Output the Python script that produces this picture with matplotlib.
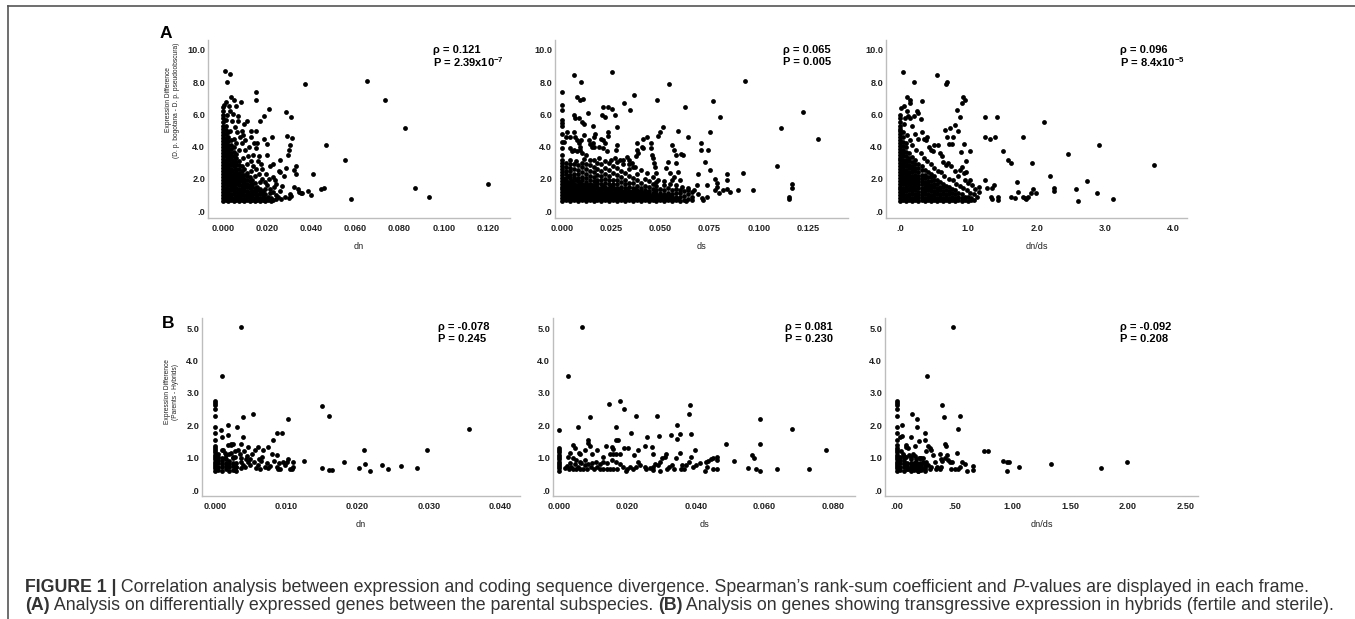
import matplotlib
matplotlib.use("Agg")
import matplotlib.pyplot as plt
from matplotlib.lines import Line2D

plt.rcParams['font.family'] = ['Liberation Sans', 'DejaVu Sans']
plt.rcParams['mathtext.fontset'] = 'custom'
plt.rcParams['mathtext.rm'] = 'Liberation Sans:bold'
plt.rcParams['mathtext.default'] = 'rm'

W, H = 1355, 619

# ---------------- data ----------------
# dense cores are stored column by column: {x: [y values]}
a_dn_core = {
    0.0000: [0.62, 0.8, 0.99, 1.18, 1.37, 1.55, 1.74, 1.93, 2.12, 2.3, 2.49, 2.68, 2.87, 3.05, 3.24, 3.43, 3.62, 3.8, 3.99, 4.18, 4.37, 4.55, 4.74, 4.93, 5.12, 5.3, 5.52, 5.75, 5.98, 6.2],
    0.0012: [0.68, 0.88, 1.07, 1.26, 1.46, 1.65, 1.84, 2.03, 2.22, 2.42, 2.61, 2.8, 3.0, 3.2, 3.39, 3.58, 3.78, 3.97, 4.16, 4.36, 4.56, 4.78, 5.02, 5.3, 5.65],
    0.0024: [0.63, 0.82, 1.02, 1.21, 1.4, 1.6, 1.79, 1.98, 2.17, 2.37, 2.56, 2.76, 2.95, 3.14, 3.34, 3.53, 3.72, 3.92, 4.12, 4.35, 4.6, 4.88],
    0.0036: [0.7, 0.9, 1.09, 1.28, 1.48, 1.67, 1.86, 2.06, 2.25, 2.44, 2.64, 2.83, 3.02, 3.22, 3.41, 3.62, 3.85, 4.1, 4.4],
    0.0048: [0.64, 0.84, 1.03, 1.22, 1.42, 1.61, 1.8, 2.0, 2.19, 2.38, 2.58, 2.77, 2.96, 3.18, 3.4, 3.65, 3.95],
    0.0060: [0.69, 0.88, 1.08, 1.27, 1.46, 1.66, 1.85, 2.04, 2.24, 2.43, 2.63, 2.84, 3.06, 3.3, 3.55],
    0.0072: [0.62, 0.82, 1.01, 1.2, 1.4, 1.59, 1.78, 1.98, 2.17, 2.38, 2.6, 2.85, 3.1],
    0.0084: [0.67, 0.87, 1.06, 1.25, 1.45, 1.64, 1.84, 2.04, 2.26, 2.5, 2.78],
    0.0096: [0.63, 0.83, 1.02, 1.22, 1.41, 1.61, 1.81, 2.02, 2.25, 2.6],
    0.0108: [0.68, 0.88, 1.07, 1.27, 1.47, 1.68, 1.9, 2.15, 2.35],
    0.0120: [0.62, 0.82, 1.01, 1.21, 1.41, 1.62, 1.85, 2.1],
    0.0132: [0.66, 0.86, 1.06, 1.26, 1.47, 1.7, 1.92],
    0.0144: [0.63, 0.83, 1.03, 1.24, 1.46, 1.72],
    0.0156: [0.68, 0.88, 1.08, 1.3, 1.52],
    0.0168: [0.62, 0.82, 1.03, 1.25, 1.38],
    0.0180: [0.66, 0.87, 1.08, 1.22],
    0.0192: [0.63, 0.84, 1.05],
    0.0204: [0.68, 0.9],
    0.0216: [0.64, 0.8],
    0.0228: [0.7],
}
a_dn_pts = [
    (0.0008, 8.7), (0.003, 8.5), (0.002, 8.0), (0.037, 7.9), (0.065, 8.07), (0.0732, 6.87), (0.0826, 5.13),
    (0.0868, 1.45), (0.0934, 0.89), (0.120, 1.68), (0.058, 0.72), (0.0554, 3.17), (0.0468, 4.1), (0.0408, 2.28),
    (0.0332, 2.82), (0.0445, 1.35), (0.0457, 1.45), (0.0385, 1.24), (0.040, 1.0), (0.0355, 1.14), (0.032, 1.5),
    (0.0287, 6.17), (0.031, 5.86), (0.029, 4.66), (0.0314, 4.55), (0.0305, 4.1), (0.030, 3.8), (0.0295, 3.5),
    (0.0287, 2.7), (0.032, 2.55), (0.033, 2.3), (0.030, 0.8), (0.031, 0.95), (0.0305, 1.05), (0.0148, 7.37),
    (0.0148, 6.9), (0.021, 6.33), (0.0185, 5.9), (0.0166, 5.6), (0.011, 5.6), (0.022, 4.6), (0.0185, 4.45),
    (0.020, 4.16), (0.020, 3.5), (0.015, 4.95), (0.0142, 4.2), (0.0148, 3.9), (0.0155, 4.2), (0.0125, 5.0),
    (0.0125, 4.6), (0.009, 4.7), (0.026, 3.2), (0.0255, 2.5), (0.026, 2.4), (0.0227, 2.1), (0.0235, 1.9),
    (0.024, 1.7), (0.0215, 2.8), (0.0225, 2.9), (0.017, 2.9), (0.0165, 3.4), (0.008, 6.8), (0.006, 6.5),
    (0.005, 6.9), (0.0035, 7.1), (0.007, 5.9), (0.0095, 5.4), (0.0275, 2.2), (0.0268, 1.55), (0.0258, 1.25),
    (0.028, 0.85), (0.034, 1.35), (0.0345, 1.2), (0.036, 1.15), (0.0018, 5.95), (0.003, 6.2), (0.0042, 5.6),
    (0.0055, 5.2), (0.0065, 4.9), (0.0078, 4.6), (0.0088, 4.2), (0.010, 3.8), (0.0112, 3.4), (0.0125, 3.1),
    (0.0138, 2.8), (0.015, 2.6), (0.0162, 2.3), (0.0175, 2.0), (0.0188, 1.8), (0.020, 1.6), (0.0212, 1.4),
    (0.0225, 1.2), (0.0238, 1.0), (0.025, 0.85), (0.0262, 0.72), (0.0048, 4.5), (0.006, 4.2), (0.0072, 3.8),
    (0.0032, 5.0), (0.009, 3.3), (0.011, 2.9), (0.0128, 2.5), (0.0145, 2.2), (0.0168, 1.8), (0.019, 1.4),
    (0.0215, 1.1), (0.024, 0.75), (0.0025, 6.5), (0.0045, 6.0), (0.007, 5.6), (0.0085, 5.0), (0.0098, 4.4),
    (0.0118, 4.0), (0.0135, 3.5), (0.016, 3.1), (0.0178, 2.6), (0.0195, 2.3), (0.0208, 2.0), (0.023, 1.5),
    (0.0005, 6.6), (0.0015, 6.8), (0.0, 6.45),
]

a_ds_core = {
    0.000: [0.62, 0.8, 0.98, 1.16, 1.34, 1.52, 1.7, 1.88, 2.06, 2.24, 2.42, 2.6, 2.78, 2.96, 3.14],
    0.001: [0.72, 0.93, 1.14, 1.36, 1.58, 1.8, 2.0],
    0.002: [0.68, 0.88, 1.08, 1.28, 1.48, 1.68, 1.88, 2.08, 2.28, 2.5, 2.74, 2.98],
    0.003: [0.74, 0.95, 1.16, 1.38, 1.6, 1.82, 2.15],
    0.004: [0.63, 0.83, 1.03, 1.23, 1.43, 1.63, 1.83, 2.03, 2.24, 2.46, 2.7, 2.95],
    0.005: [0.73, 0.94, 1.15, 1.37, 1.6, 1.84],
    0.006: [0.7, 0.9, 1.1, 1.3, 1.5, 1.7, 1.9, 2.1, 2.32, 2.6, 2.92],
    0.007: [0.75, 0.96, 1.18, 1.4, 1.62, 1.95],
    0.008: [0.64, 0.84, 1.04, 1.24, 1.44, 1.64, 1.84, 2.05, 2.28, 2.55, 2.88],
    0.009: [0.72, 0.94, 1.15, 1.38, 1.6, 1.8],
    0.010: [0.69, 0.89, 1.09, 1.29, 1.49, 1.69, 1.9, 2.12, 2.4, 2.72, 3.0],
    0.011: [0.74, 0.95, 1.17, 1.4, 1.63],
    0.012: [0.62, 0.82, 1.02, 1.22, 1.42, 1.62, 1.83, 2.05, 2.3, 2.62, 2.95],
    0.013: [0.73, 0.95, 1.16, 1.38, 1.6],
    0.014: [0.67, 0.87, 1.07, 1.27, 1.47, 1.68, 1.9, 2.15, 2.48, 2.85],
    0.015: [0.75, 0.96, 1.18, 1.4, 1.62],
    0.016: [0.63, 0.83, 1.03, 1.23, 1.43, 1.64, 1.86, 2.1, 2.4, 2.75, 3.2],
    0.017: [0.72, 0.94, 1.15, 1.38, 1.6],
    0.018: [0.7, 0.9, 1.1, 1.3, 1.5, 1.72, 1.95, 2.22, 2.6, 3.0],
    0.019: [0.74, 0.96, 1.18, 1.4],
    0.020: [0.64, 0.84, 1.04, 1.24, 1.45, 1.66, 1.9, 2.18, 2.5, 2.9],
    0.021: [0.73, 0.95, 1.16, 1.38, 1.58],
    0.022: [0.68, 0.88, 1.08, 1.28, 1.49, 1.72, 1.98, 2.3, 2.7],
    0.023: [0.75, 0.96, 1.18, 1.4],
    0.024: [0.62, 0.82, 1.02, 1.22, 1.43, 1.65, 1.9, 2.2, 2.55, 3.0],
    0.025: [0.72, 0.94, 1.15, 1.36, 1.55],
    0.026: [0.67, 0.87, 1.07, 1.27, 1.48, 1.7, 1.96, 2.35, 2.8],
    0.027: [0.74, 0.96, 1.17, 1.38],
    0.028: [0.63, 0.83, 1.03, 1.23, 1.44, 1.66, 1.92, 2.25, 2.65],
    0.029: [0.73, 0.95, 1.16, 1.4],
    0.030: [0.69, 0.89, 1.09, 1.3, 1.52, 1.78, 2.1, 2.5],
    0.031: [0.75, 0.97, 1.2],
    0.032: [0.62, 0.82, 1.02, 1.22, 1.43, 1.66, 1.95, 2.35],
    0.033: [0.72, 0.94, 1.15, 1.35],
    0.034: [0.66, 0.86, 1.06, 1.27, 1.5, 1.76, 2.15, 2.6],
    0.035: [0.74, 0.96, 1.18],
    0.036: [0.63, 0.83, 1.03, 1.24, 1.46, 1.72, 2.05],
    0.037: [0.73, 0.95, 1.15, 1.35],
    0.038: [0.68, 0.88, 1.08, 1.3, 1.55, 1.9, 2.3],
    0.039: [0.75, 0.97, 1.2],
    0.040: [0.62, 0.82, 1.02, 1.23, 1.46, 1.75],
    0.041: [0.72, 0.94, 1.14],
    0.042: [0.67, 0.87, 1.08, 1.3, 1.58, 2.0],
    0.043: [0.74, 0.96, 1.18],
    0.044: [0.64, 0.84, 1.05, 1.27, 1.52, 1.85],
    0.045: [0.73, 0.95],
    0.046: [0.69, 0.9, 1.12, 1.36, 1.7],
    0.047: [0.75, 0.98, 1.2],
    0.048: [0.62, 0.83, 1.04, 1.28, 1.55],
    0.049: [0.72, 0.94],
    0.050: [0.67, 0.88, 1.1, 1.35],
    0.051: [0.74, 0.96],
    0.052: [0.64, 0.85, 1.07, 1.3, 1.6],
    0.053: [0.73, 0.95],
    0.054: [0.7, 0.92, 1.15, 1.42],
    0.055: [0.75, 0.97],
    0.056: [0.63, 0.85, 1.08, 1.32],
    0.057: [0.72],
    0.058: [0.68, 0.9, 1.14, 1.4],
    0.059: [0.74],
    0.060: [0.64, 0.86, 1.1, 1.3],
    0.062: [0.7, 0.95, 1.22],
    0.064: [0.75, 1.05, 1.3],
    0.066: [0.9, 1.2],
}
a_ds_pts = [
    (0.0059, 8.45), (0.0253, 8.65), (0.0098, 8.0), (0.0544, 7.9), (0.0929, 8.07), (0.0, 7.37), (0.0076, 7.1),
    (0.0093, 6.9), (0.0106, 6.93), (0.0, 6.58), (0.0, 6.27), (0.0367, 7.2), (0.0316, 6.69), (0.0346, 6.27),
    (0.0485, 6.9), (0.0765, 6.85), (0.021, 6.44), (0.0231, 6.48), (0.0253, 6.31), (0.0267, 5.96), (0.0203, 5.96),
    (0.0216, 5.86), (0.0132, 6.1), (0.006, 5.96), (0.0064, 5.75), (0.0, 5.65), (0.0, 5.44), (0.0, 5.28),
    (0.0088, 5.75), (0.0101, 5.55), (0.011, 5.4), (0.0157, 5.28), (0.0279, 5.24), (0.0515, 5.24), (0.0625, 6.48),
    (0.0802, 5.86), (0.1115, 5.13), (0.1225, 6.17), (0.130, 4.45), (0.092, 2.38), (0.1093, 2.8), (0.117, 1.68),
    (0.117, 1.41), (0.1154, 0.85), (0.1154, 0.72), (0.097, 1.3), (0.0895, 1.3), (0.0856, 1.2), (0.084, 1.35),
    (0.082, 1.3), (0.079, 1.76), (0.079, 1.5), (0.078, 1.3), (0.080, 1.1), (0.078, 2.0), (0.084, 2.3),
    (0.084, 1.93), (0.0752, 4.93), (0.0706, 4.24), (0.0706, 3.79), (0.074, 3.79), (0.0726, 3.06), (0.0752, 2.55),
    (0.069, 2.3), (0.0684, 1.6), (0.0735, 1.6), (0.0735, 0.89), (0.0718, 0.68), (0.0588, 5.0), (0.056, 4.1),
    (0.057, 3.8), (0.058, 3.5), (0.0605, 3.54), (0.0617, 3.48), (0.0642, 4.6), (0.054, 3.06), (0.053, 2.65),
    (0.058, 2.96), (0.059, 2.44), (0.057, 2.13), (0.055, 2.34), (0.0557, 1.93), (0.060, 1.93), (0.0498, 4.93),
    (0.049, 4.66), (0.043, 4.6), (0.041, 4.5), (0.0405, 4.0), (0.0414, 3.9), (0.045, 4.2), (0.045, 3.9),
    (0.0455, 3.5), (0.046, 3.3), (0.0465, 2.96), (0.0473, 2.75), (0.0478, 2.34), (0.048, 1.82), (0.038, 4.2),
    (0.038, 3.8), (0.0385, 3.6), (0.0375, 3.4), (0.034, 3.17), (0.0355, 2.96), (0.036, 2.75), (0.033, 3.37),
    (0.031, 3.17), (0.028, 4.1), (0.0275, 3.8), (0.0236, 4.93), (0.0232, 4.66), (0.020, 4.5), (0.021, 4.4),
    (0.022, 4.2), (0.0169, 4.8), (0.016, 4.6), (0.0157, 4.2), (0.0164, 4.0), (0.0135, 4.4), (0.0143, 4.16),
    (0.015, 4.0), (0.011, 4.7), (0.0096, 4.4), (0.0059, 4.93), (0.0068, 4.6), (0.0076, 4.4), (0.0084, 4.2),
    (0.0093, 4.0), (0.0025, 4.93), (0.0022, 4.6), (0.0042, 4.6), (0.0, 4.8), (0.0, 4.3), (0.0008, 4.3),
    (0.0042, 3.9), (0.005, 3.7), (0.0059, 3.8), (0.0076, 3.7), (0.009, 3.8), (0.010, 3.6), (0.012, 3.5),
    (0.019, 4.0), (0.021, 3.9), (0.023, 3.7), (0.027, 3.27), (0.0296, 3.17), (0.0, 3.5), (0.0, 3.9),
    (0.004, 3.2), (0.007, 3.1), (0.011, 3.25), (0.014, 3.15), (0.019, 3.3), (0.022, 3.1), (0.025, 3.2),
    (0.028, 3.05), (0.031, 2.9), (0.034, 2.95), (0.037, 2.75), (0.040, 2.55), (0.043, 2.35), (0.046, 2.1),
    (0.049, 1.9), (0.052, 1.85), (0.055, 1.7), (0.058, 1.6), (0.061, 1.5), (0.064, 1.45), (0.067, 1.3),
    (0.069, 1.05), (0.071, 0.8), (0.066, 0.7), (0.063, 0.62),
]

a_dnds_core = {
    0.000: [0.62, 0.8, 0.98, 1.16, 1.34, 1.52, 1.7, 1.88, 2.06, 2.24, 2.42, 2.6, 2.78, 2.96, 3.14, 3.32, 3.5, 3.68, 3.86, 4.04, 4.22, 4.4, 4.58, 4.76, 4.94, 5.12, 5.3, 5.5, 5.75, 5.95],
    0.045: [0.68, 0.88, 1.07, 1.26, 1.46, 1.65, 1.84, 2.04, 2.23, 2.42, 2.62, 2.81, 3.0, 3.2, 3.4, 3.6, 3.82, 4.05, 4.3, 4.6, 4.9],
    0.090: [0.63, 0.83, 1.02, 1.22, 1.41, 1.6, 1.8, 1.99, 2.18, 2.38, 2.57, 2.77, 2.97, 3.18, 3.4, 3.65, 3.95, 4.25],
    0.135: [0.7, 0.9, 1.09, 1.28, 1.48, 1.67, 1.86, 2.06, 2.25, 2.45, 2.65, 2.86, 3.08, 3.32, 3.6],
    0.180: [0.64, 0.84, 1.03, 1.23, 1.42, 1.62, 1.81, 2.01, 2.2, 2.4, 2.6, 2.82, 3.05, 3.35],
    0.225: [0.69, 0.89, 1.08, 1.28, 1.47, 1.67, 1.86, 2.06, 2.26, 2.47, 2.7, 2.95, 3.2],
    0.270: [0.62, 0.82, 1.02, 1.21, 1.41, 1.6, 1.8, 2.0, 2.2, 2.42, 2.66, 2.92],
    0.315: [0.67, 0.87, 1.06, 1.26, 1.46, 1.65, 1.85, 2.05, 2.27, 2.52, 2.8],
    0.360: [0.63, 0.83, 1.03, 1.22, 1.42, 1.62, 1.82, 2.03, 2.26, 2.55],
    0.405: [0.68, 0.88, 1.08, 1.28, 1.48, 1.68, 1.89, 2.12, 2.4],
    0.450: [0.62, 0.82, 1.02, 1.22, 1.42, 1.63, 1.85, 2.1, 2.32],
    0.495: [0.66, 0.86, 1.06, 1.26, 1.47, 1.68, 1.92, 2.2],
    0.540: [0.63, 0.83, 1.03, 1.24, 1.45, 1.68, 1.95],
    0.585: [0.69, 0.89, 1.09, 1.3, 1.52, 1.78],
    0.630: [0.62, 0.82, 1.03, 1.24, 1.47, 1.7],
    0.675: [0.67, 0.87, 1.08, 1.3, 1.55],
    0.720: [0.63, 0.83, 1.04, 1.26, 1.48],
    0.765: [0.68, 0.88, 1.1, 1.35],
    0.810: [0.62, 0.83, 1.05, 1.28],
    0.855: [0.67, 0.88, 1.12],
    0.900: [0.63, 0.84, 1.06],
    0.945: [0.68, 0.9],
    0.990: [0.64, 0.86],
    1.035: [0.7, 0.82],
    1.080: [0.66],
}
a_dnds_pts = [
    (0.05, 8.65), (0.54, 8.45), (0.21, 8.0), (0.69, 8.03), (0.68, 7.9), (0.1, 7.1), (0.32, 6.85), (0.15, 6.9),
    (0.14, 6.7), (0.92, 7.06), (0.95, 6.9), (0.9, 6.7), (0.83, 6.3), (0.88, 5.86), (0.8, 5.34), (0.73, 5.13),
    (0.66, 5.03), (0.85, 5.0), (0.69, 4.6), (0.78, 4.6), (0.71, 4.16), (0.76, 4.16), (0.93, 4.16), (1.03, 3.75),
    (0.89, 3.69), (0.97, 3.13), (0.9, 2.75), (0.88, 2.55), (0.93, 2.34), (0.97, 2.44), (0.63, 3.06), (0.67, 2.86),
    (1.24, 5.82), (1.42, 5.82), (1.24, 4.6), (1.32, 4.5), (1.39, 4.58), (1.5, 3.75), (1.58, 3.17), (1.62, 2.96),
    (1.8, 4.6), (1.93, 3.0), (2.11, 5.55), (2.46, 3.52), (2.91, 4.1), (3.71, 2.86), (2.19, 2.19), (2.73, 1.86),
    (2.25, 1.41), (2.25, 1.26), (2.58, 1.35), (2.89, 1.1), (2.61, 0.64), (3.11, 0.72), (1.71, 1.82), (1.72, 1.2),
    (1.63, 0.89), (1.68, 0.79), (1.8, 0.89), (1.83, 0.79), (1.85, 0.72), (1.88, 0.89), (1.91, 1.1), (1.94, 1.35),
    (1.99, 1.14), (1.24, 1.93), (1.27, 1.41), (1.34, 1.41), (1.37, 1.61), (1.33, 0.89), (1.34, 0.72), (1.44, 0.89),
    (1.44, 0.68), (1.15, 1.5), (1.16, 1.2), (1.12, 0.89), (1.03, 1.93), (1.0, 1.72), (0.02, 6.4), (0.06, 6.5),
    (0.1, 6.2), (0.12, 5.9), (0.15, 5.8), (0.18, 5.3), (0.2, 5.9), (0.25, 6.2), (0.26, 6.1), (0.3, 5.7),
    (0.22, 4.8), (0.27, 4.5), (0.32, 4.9), (0.35, 4.5), (0.38, 4.4), (0.4, 4.6), (0.42, 4.0), (0.45, 3.8),
    (0.48, 3.7), (0.5, 4.1), (0.55, 4.1), (0.58, 3.6), (0.62, 3.4), (0.7, 3.0), (0.75, 2.8), (0.8, 2.5),
    (0.85, 2.2), (0.95, 1.9), (1.05, 1.6), (1.1, 1.4), (0.6, 2.4), (0.65, 2.2), (0.72, 2.0), (0.78, 1.9),
    (0.82, 1.7), (0.88, 1.55), (0.92, 1.45), (0.98, 1.3), (1.02, 1.15), (1.08, 1.05), (0.35, 3.3), (0.4, 3.1),
    (0.45, 2.9), (0.5, 2.7), (0.55, 2.5), (0.18, 4.1), (0.24, 3.8), (0.3, 3.6), (0.1, 4.7), (0.14, 4.4),
    (0.06, 5.4), (0.08, 5.8),
]

b_dn_core = {
    0.0000: [0.6, 0.67, 0.74, 0.81, 0.88, 0.95, 1.02, 1.09, 1.16, 1.23, 1.3, 1.36],
    0.0005: [0.62, 0.72, 0.82, 0.92, 1.02, 1.12],
    0.0010: [0.6, 0.7, 0.8, 0.9, 1.0, 1.22],
    0.0015: [0.64, 0.74, 0.84, 0.95, 1.08],
    0.0020: [0.6, 0.7, 0.8, 0.9, 1.12],
    0.0025: [0.62, 0.73, 0.84, 0.98],
    0.0030: [0.6, 0.7, 0.82],
}
b_dn_pts = [
    (0.00365, 5.02), (0.00094, 3.53), (0.0, 2.76), (0.0, 2.7), (0.0, 2.63), (0.0, 2.5), (0.0, 2.3), (0.0, 1.96),
    (0.0, 1.77), (0.0, 1.53), (0.0009, 1.84), (0.001, 1.63), (0.0019, 2.0), (0.0019, 1.7), (0.0031, 1.94),
    (0.004, 2.24), (0.0053, 2.34), (0.0039, 1.65), (0.0037, 1.42), (0.0023, 1.42), (0.0026, 1.42), (0.0103, 2.2),
    (0.015, 2.6), (0.016, 2.29), (0.0356, 1.89), (0.0298, 1.22), (0.0209, 1.22), (0.0211, 0.8), (0.0181, 0.85),
    (0.0202, 0.69), (0.0218, 0.6), (0.0234, 0.77), (0.0243, 0.64), (0.0261, 0.74), (0.0283, 0.67), (0.015, 0.67),
    (0.016, 0.62), (0.0164, 0.62), (0.0125, 0.9), (0.0082, 1.55), (0.0087, 1.75), (0.0094, 1.75), (0.0087, 1.08),
    (0.0075, 1.34), (0.008, 1.11), (0.0103, 0.95), (0.0101, 0.85), (0.009, 0.82), (0.0095, 0.88), (0.0098, 0.78),
    (0.011, 0.85), (0.0109, 0.7), (0.0087, 0.72), (0.0088, 0.64), (0.0091, 0.64), (0.0105, 0.64), (0.0108, 0.64),
    (0.0068, 1.22), (0.0066, 1.03), (0.0061, 1.34), (0.0056, 1.24), (0.005, 0.95), (0.0044, 0.95), (0.0047, 0.85),
    (0.0058, 0.67), (0.0064, 0.64), (0.0073, 0.82), (0.0075, 0.67), (0.0047, 1.32), (0.0041, 1.19), (0.0036, 0.98),
    (0.0037, 0.88), (0.0039, 0.77), (0.0036, 0.67), (0.0028, 1.19), (0.0028, 1.03), (0.0019, 1.39), (0.0023, 1.39),
    (0.0023, 1.13), (0.0025, 1.03), (0.0012, 1.24), (0.0014, 1.13), (0.0014, 0.98), (0.003, 0.72), (0.0028, 0.62),
    (0.0035, 1.1), (0.0042, 0.7), (0.005, 0.78), (0.0055, 0.88), (0.006, 0.78), (0.0065, 0.9), (0.007, 0.72),
    (0.0078, 0.75), (0.0083, 0.9), (0.0033, 1.25), (0.0045, 1.05), (0.0052, 1.1), (0.0062, 0.95),
]

b_ds_core = {
    0.0000: [0.6, 0.67, 0.74, 0.81, 0.88, 0.95, 1.02, 1.09, 1.16, 1.23, 1.29],
}
b_ds_pts = [
    (0.0068, 5.02), (0.0026, 3.53), (0.0, 1.84), (0.0055, 1.96), (0.009, 2.24), (0.0146, 2.65), (0.0177, 2.75),
    (0.0189, 2.5), (0.0224, 2.3), (0.0287, 2.29), (0.0165, 1.94), (0.0211, 1.77), (0.0172, 1.53), (0.0166, 1.55),
    (0.0257, 1.63), (0.0292, 1.67), (0.0328, 1.7), (0.0343, 2.0), (0.0345, 1.57), (0.0352, 1.73), (0.038, 2.34),
    (0.0382, 2.63), (0.0386, 1.73), (0.0486, 1.42), (0.0586, 2.19), (0.0588, 1.42), (0.0681, 1.89), (0.0779, 1.22),
    (0.073, 0.64), (0.0635, 0.64), (0.0586, 0.6), (0.0574, 0.64), (0.0552, 0.67), (0.0564, 1.08), (0.0569, 0.98),
    (0.0511, 0.9), (0.0461, 1.03), (0.0461, 0.93), (0.046, 0.64), (0.045, 0.64), (0.0435, 0.9), (0.0442, 0.95),
    (0.045, 0.98), (0.0430, 0.85), (0.041, 0.82), (0.040, 0.77), (0.039, 0.72), (0.0396, 1.22), (0.0386, 1.03),
    (0.038, 0.88), (0.036, 0.77), (0.037, 0.77), (0.0365, 0.64), (0.0355, 0.64), (0.0352, 1.13), (0.034, 0.98),
    (0.033, 0.77), (0.0335, 0.64), (0.032, 0.72), (0.0315, 0.64), (0.031, 1.03), (0.0313, 1.11), (0.030, 0.98),
    (0.0295, 0.88), (0.029, 0.77), (0.028, 0.8), (0.0273, 0.72), (0.0265, 0.67), (0.0255, 0.64), (0.025, 0.72),
    (0.0274, 1.11), (0.027, 1.34), (0.025, 1.36), (0.023, 1.24), (0.022, 1.08), (0.023, 0.88), (0.0235, 0.77),
    (0.0225, 0.72), (0.0216, 0.64), (0.0206, 0.72), (0.0198, 0.64), (0.019, 1.29), (0.020, 1.29), (0.0177, 1.1),
    (0.0167, 1.1), (0.0158, 1.1), (0.0148, 1.1), (0.0153, 1.34), (0.0158, 1.26), (0.0138, 1.36), (0.0128, 1.03),
    (0.0111, 1.24), (0.0097, 1.11), (0.0091, 1.36), (0.0085, 1.55), (0.0085, 1.45), (0.0075, 1.24), (0.006, 1.11),
    (0.0058, 1.15), (0.0041, 1.39), (0.0031, 1.13), (0.0026, 1.03), (0.0046, 1.29), (0.0177, 0.8), (0.0169, 0.64),
    (0.0157, 0.64), (0.0148, 0.64), (0.014, 0.64), (0.0128, 0.64), (0.0118, 0.64), (0.011, 0.7), (0.0101, 0.64),
    (0.0085, 0.8), (0.0092, 0.72), (0.0075, 0.77), (0.0065, 0.82), (0.0055, 0.72), (0.0045, 0.8), (0.0036, 0.72),
    (0.0029, 0.64), (0.0016, 0.69), (0.0167, 0.88), (0.0153, 0.93), (0.014, 0.82), (0.0128, 0.88), (0.0118, 0.8),
    (0.0109, 0.88), (0.0095, 0.82), (0.007, 0.64), (0.0062, 0.64), (0.005, 0.64), (0.004, 0.64), (0.0082, 0.64),
    (0.0075, 0.92), (0.0062, 0.88), (0.005, 0.92), (0.004, 1.0), (0.0031, 0.82), (0.0022, 0.75), (0.0195, 0.6),
    (0.0185, 0.72), (0.0275, 0.62), (0.0294, 0.6), (0.0425, 0.6), (0.0432, 0.72),
]

b_dnds_core = {
    0.00: [0.6, 0.67, 0.74, 0.81, 0.88, 0.95, 1.02, 1.09, 1.16, 1.23, 1.3],
    0.03: [0.62, 0.72, 0.82, 0.92, 1.02],
    0.06: [0.6, 0.7, 0.8, 0.9, 1.05],
    0.09: [0.64, 0.74, 0.84],
    0.12: [0.6, 0.7, 0.8, 0.95],
    0.15: [0.62, 0.72, 0.82],
    0.18: [0.6, 0.7, 0.8],
    0.21: [0.64, 0.76],
    0.24: [0.6, 0.72, 0.84],
}
b_dnds_pts = [
    (0.487, 5.02), (0.264, 3.53), (0.0, 2.76), (0.0, 2.7), (0.0, 2.63), (0.0, 2.5), (0.0, 2.3), (0.0, 1.96),
    (0.0, 1.77), (0.0, 1.53), (0.0, 1.39), (0.133, 2.34), (0.177, 2.19), (0.177, 1.94), (0.046, 2.0), (0.03, 1.63),
    (0.046, 1.67), (0.125, 1.65), (0.246, 1.75), (0.24, 1.55), (0.39, 2.61), (0.405, 2.24), (0.55, 2.29),
    (0.53, 1.89), (0.52, 1.15), (0.414, 1.41), (0.423, 1.36), (0.27, 1.36), (0.284, 1.29), (0.298, 1.24),
    (0.255, 1.19), (0.313, 1.08), (0.371, 1.11), (0.435, 1.08), (0.414, 0.98), (0.394, 0.91), (0.443, 0.93),
    (0.385, 0.72), (0.371, 0.64), (0.342, 0.64), (0.458, 0.85), (0.48, 0.85), (0.472, 0.64), (0.5, 0.64),
    (0.53, 0.64), (0.545, 0.72), (0.56, 0.85), (0.588, 0.81), (0.61, 0.6), (0.655, 0.62), (0.66, 0.74),
    (0.756, 1.21), (0.785, 1.19), (0.92, 0.9), (0.956, 0.85), (0.97, 0.88), (0.956, 0.6), (1.06, 0.7),
    (1.335, 0.8), (1.767, 0.67), (1.993, 0.85), (0.08, 1.39), (0.075, 1.34), (0.096, 1.29), (0.06, 0.98),
    (0.081, 1.03), (0.104, 1.08), (0.125, 1.03), (0.14, 1.11), (0.153, 1.36), (0.19, 1.5), (0.154, 1.05),
    (0.168, 0.95), (0.19, 1.0), (0.125, 0.82), (0.154, 0.77), (0.183, 0.72), (0.212, 0.72), (0.241, 0.8),
    (0.197, 0.84), (0.168, 0.88), (0.226, 0.85), (0.255, 0.85), (0.27, 0.77), (0.299, 0.72), (0.284, 0.64),
    (0.241, 0.64), (0.212, 0.62), (0.183, 0.6), (0.154, 0.64), (0.125, 0.64), (0.096, 0.64), (0.327, 0.85),
    (0.348, 0.72), (0.385, 0.95), (0.21, 0.98), (0.196, 0.98), (0.226, 0.98), (0.05, 1.12), (0.034, 1.2),
]

a_yticks = [0, 2, 4, 6, 8, 10]
a_yticklabels = ['.0', '2.0', '4.0', '6.0', '8.0', '10.0']
b_yticks = [0, 1, 2, 3, 4, 5]
b_yticklabels = ['.0', '1.0', '2.0', '3.0', '4.0', '5.0']

a_dn_xticks = [0.0, 0.02, 0.04, 0.06, 0.08, 0.10, 0.12]
a_dn_xticklabels = ['0.000', '0.020', '0.040', '0.060', '0.080', '0.100', '0.120']
a_ds_xticks = [0.0, 0.025, 0.05, 0.075, 0.10, 0.125]
a_ds_xticklabels = ['0.000', '0.025', '0.050', '0.075', '0.100', '0.125']
a_dnds_xticks = [0, 1, 2, 3, 4]
a_dnds_xticklabels = ['.0', '1.0', '2.0', '3.0', '4.0']
b_dn_xticks = [0.0, 0.01, 0.02, 0.03, 0.04]
b_dn_xticklabels = ['0.000', '0.010', '0.020', '0.030', '0.040']
b_ds_xticks = [0.0, 0.02, 0.04, 0.06, 0.08]
b_ds_xticklabels = ['0.000', '0.020', '0.040', '0.060', '0.080']
b_dnds_xticks = [0.0, 0.5, 1.0, 1.5, 2.0, 2.5]
b_dnds_xticklabels = ['.00', '.50', '1.00', '1.50', '2.00', '2.50']

rho_labels = ['0.121', '0.065', '0.096', '-0.078', '0.081', '-0.092']
p_labels = ['2.39x10$^{-7}$', '0.005', '8.4x10$^{-5}$', '0.245', '0.230', '0.208']

# ---------------- figure ----------------
fig = plt.figure(figsize=(W / 100, H / 100), dpi=100)


def px(x, y):
    return x / W, 1 - y / H


def add_panel(box, core, pts, xlim, ylim, xticks, xlabels, yticks, ylabels, xlabel, rho, pval, note_xy):
    l, t, r, b = box
    ax = fig.add_axes([l / W, 1 - b / H, (r - l) / W, (b - t) / H])
    xs, ys = [], []
    for x, col in core.items():
        xs += [x] * len(col)
        ys += col
    for x, y in pts:
        xs.append(x)
        ys.append(y)
    ax.scatter(xs, ys, s=12, c='black', linewidths=0, zorder=3)
    ax.set_xlim(*xlim)
    ax.set_ylim(*ylim)
    ax.set_xticks(xticks)
    ax.set_xticklabels(xlabels)
    ax.set_yticks(yticks)
    ax.set_yticklabels(ylabels)
    for lab in ax.get_xticklabels() + ax.get_yticklabels():
        lab.set_fontweight('bold')
        lab.set_fontsize(6.6)
        lab.set_color('#222222')
    ax.tick_params(length=0, pad=4)
    ax.tick_params(axis='y', pad=2)
    for side in ['top', 'right']:
        ax.spines[side].set_visible(False)
    for side in ['left', 'bottom']:
        ax.spines[side].set_color('#bdbdbd')
        ax.spines[side].set_linewidth(1.0)
    ax.set_xlabel(xlabel, fontsize=6.6, color='#222222', labelpad=7)
    nx, ny = note_xy
    fig.text(*px(nx, ny), 'ρ = ' + rho, fontsize=8, fontweight='bold', va='center', ha='left')
    fig.text(*px(nx, ny + 12), 'P = ' + pval, fontsize=8, fontweight='bold', va='center', ha='left')
    return ax


add_panel((208, 40, 510, 218), a_dn_core, a_dn_pts, (-0.0068, 0.130), (-0.43, 10.62),
          a_dn_xticks, a_dn_xticklabels, a_yticks, a_yticklabels, 'dn', rho_labels[0], p_labels[0], (433, 50))
add_panel((555, 40, 848, 218), a_ds_core, a_ds_pts, (-0.0036, 0.1454), (-0.43, 10.62),
          a_ds_xticks, a_ds_xticklabels, a_yticks, a_yticklabels, 'ds', rho_labels[1], p_labels[1], (783, 50))
add_panel((886, 40, 1187, 218), a_dnds_core, a_dnds_pts, (-0.205, 4.2), (-0.43, 10.62),
          a_dnds_xticks, a_dnds_xticklabels, a_yticks, a_yticklabels, 'dn/ds', rho_labels[2], p_labels[2], (1120, 50))
add_panel((202, 318, 520, 496), b_dn_core, b_dn_pts, (-0.0018, 0.0428), (-0.185, 5.31),
          b_dn_xticks, b_dn_xticklabels, b_yticks, b_yticklabels, 'dn', rho_labels[3], p_labels[3], (438, 327))
add_panel((553, 318, 855, 496), b_ds_core, b_ds_pts, (-0.0018, 0.0864), (-0.185, 5.31),
          b_ds_xticks, b_ds_xticklabels, b_yticks, b_yticklabels, 'ds', rho_labels[4], p_labels[4], (785, 327))
add_panel((885, 318, 1198, 496), b_dnds_core, b_dnds_pts, (-0.104, 2.61), (-0.185, 5.31),
          b_dnds_xticks, b_dnds_xticklabels, b_yticks, b_yticklabels, 'dn/ds', rho_labels[5], p_labels[5], (1120, 327))

# panel letters and y titles
fig.text(*px(166, 33), 'A', fontsize=12.5, fontweight='bold', ha='center', va='center')
fig.text(*px(168, 323), 'B', fontsize=12.5, fontweight='bold', ha='center', va='center')
fig.text(*px(173, 100), 'Expression Difference\n(D. p. bogotana - D. p. pseudoobscura)', fontsize=4.8,
         rotation=90, ha='center', va='center', multialignment='center', color='#222222')
fig.text(*px(171, 392), 'Expression Difference\n(Parents - Hybrids)', fontsize=4.8,
         rotation=90, ha='center', va='center', multialignment='center', color='#222222')

# frame
fig.add_artist(Line2D([8 / W, 1], [1 - 6 / H, 1 - 6 / H], transform=fig.transFigure, color='#555555', lw=1.2))
fig.add_artist(Line2D([8 / W, 8 / W], [0, 1 - 6 / H], transform=fig.transFigure, color='#555555', lw=1.2))

# caption with mixed weights
caption_lines = [
    [('FIGURE 1 |', 'bold', 'normal'),
     (' Correlation analysis between expression and coding sequence divergence. Spearman\u2019s rank-sum coefficient and ', 'normal', 'normal'),
     ('P', 'normal', 'italic'),
     ('-values are displayed in each frame.', 'normal', 'normal')],
    [('(A)', 'bold', 'normal'),
     (' Analysis on differentially expressed genes between the parental subspecies. ', 'normal', 'normal'),
     ('(B)', 'bold', 'normal'),
     (' Analysis on genes showing transgressive expression in hybrids (fertile and sterile).', 'normal', 'normal')],
]
renderer = fig.canvas.get_renderer()
for i, runs in enumerate(caption_lines):
    x = 25 / W
    y = 1 - (592 + 18 * i) / H
    for txt, weight, style in runs:
        t = fig.text(x, y, txt, fontsize=12.75, fontweight=weight, fontstyle=style, color='#333333',
                     ha='left', va='baseline')
        bb = t.get_window_extent(renderer=renderer)
        x = bb.x1 / fig.bbox.width

fig.savefig('out.png', dpi=100)
